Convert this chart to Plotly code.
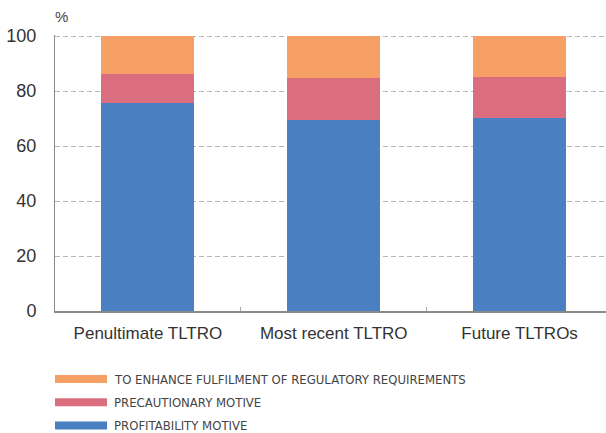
import plotly.graph_objects as go

categories = ["Penultimate TLTRO", "Most recent TLTRO", "Future TLTROs"]
profitability = [75.5, 69.4, 70.1]
precautionary = [10.7, 15.2, 14.9]
regulatory = [13.8, 15.4, 15.0]

series = [
    ("PROFITABILITY MOTIVE", profitability, "#4a7fc1"),
    ("PRECAUTIONARY MOTIVE", precautionary, "#db6e7e"),
    ("TO ENHANCE FULFILMENT OF REGULATORY REQUIREMENTS", regulatory, "#f7a066"),
]

W, H = 606, 433
L, R, T, B = 55, 0, 35, 122
plot_h = H - T - B

fig = go.Figure()
for name, vals, col in series:
    fig.add_trace(go.Bar(name=name, x=categories, y=vals, marker_color=col,
                         marker_line_width=0, width=0.5, showlegend=False))

fig.update_layout(
    width=W, height=H, barmode="stack",
    margin=dict(l=L, r=R, t=T, b=B),
    plot_bgcolor="white", paper_bgcolor="white",
    font=dict(family="Liberation Sans, Arial", color="#333333", size=16),
)
fig.update_xaxes(range=[-0.5, 2.465], showline=True, linecolor="#8a8a8a", linewidth=1.5,
                 ticks="inside", tickson="boundaries", ticklen=4, tickcolor="#aaaaaa",
                 tickfont=dict(size=17), ticklabelstandoff=6, showgrid=False)
fig.update_yaxes(range=[0, 100.4], tickvals=[0, 20, 40, 60, 80, 100], showline=True,
                 linecolor="#8a8a8a", linewidth=1,
                 showgrid=True, gridcolor="#b5b5b5", griddash="5px,3px", gridwidth=1,
                 tickfont=dict(size=18), ticks="", ticklabelstandoff=14, zeroline=False)

# custom legend: wide swatches below the plot
def py_to_paper(py):
    return (H - B - py) / plot_h

fig.add_annotation(text="%", xref="paper", yref="paper", x=-0.004, y=py_to_paper(27),
                   xanchor="left", yanchor="bottom", showarrow=False,
                   font=dict(size=15, color="#444444"))

legend_rows = [series[2], series[1], series[0]]
for i, (name, vals, col) in enumerate(legend_rows):
    cy = 379 + i * 23.3
    fig.add_shape(type="rect", xref="paper", yref="paper",
                  x0=0, x1=52 / (W - L - R), y0=py_to_paper(cy + 4), y1=py_to_paper(cy - 4),
                  fillcolor=col, line_width=0)
    fig.add_annotation(text=name, xref="paper", yref="paper",
                       x=57 / (W - L - R), y=py_to_paper(cy), xanchor="left", yanchor="middle",
                       showarrow=False,
                       font=dict(family="Liberation Sans Narrow, Arial Narrow, DejaVu Sans Condensed",
                                 size=13, color="#444444"))

fig.write_html("out.html", config={"displayModeBar": False},
               post_script="document.body.style.margin='0px';")
